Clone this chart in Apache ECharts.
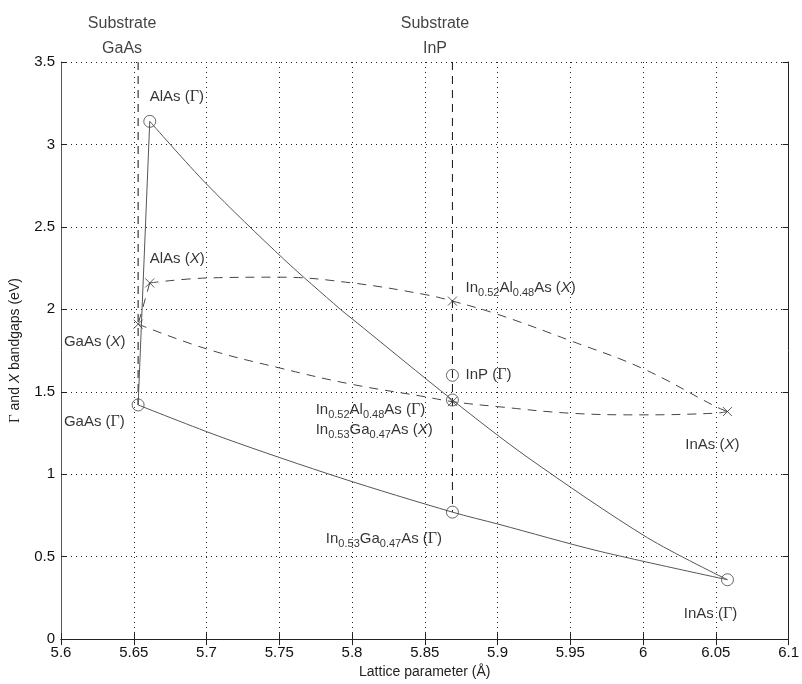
<!DOCTYPE html>
<html>
<head>
<meta charset="utf-8">
<script src="https://cdn.jsdelivr.net/npm/echarts@6/dist/echarts.min.js"></script>
<style>
  html, body { margin: 0; padding: 0; background: #fff; }
  #main { width: 802px; height: 684px; }
</style>
</head>
<body>
<div id="main"></div>
<script>
// binary end points [lattice parameter (A), bandgap (eV)]
var gaasG = [5.653, 1.42], alasG = [5.661, 3.14], inasG = [6.058, 0.36];
var gaasX = [5.653, 1.91], alasX = [5.661, 2.16], inasX = [6.058, 1.38];
var inpG = [5.869, 1.60];
// lattice matched to InP
var inalasG = [5.869, 1.45], inalasX = [5.869, 2.05];
var ingaasG = [5.869, 0.77], ingaasX = [5.869, 1.44];

// Gamma-valley curves
var inalasGCurve = [[5.661, 3.14], [5.70, 2.76], [5.753, 2.305], [5.792, 2.00], [5.80, 1.943],
    [5.869, 1.45], [5.921, 1.10], [6.003, 0.615], [6.058, 0.36]];
var ingaasGCurve = [[5.653, 1.42], [5.712, 1.219], [5.792, 0.978], [5.869, 0.77],
    [5.901, 0.696], [5.969, 0.535], [6.058, 0.36]];

// X-valley bowing curves
var inalasXCurve = [[5.661, 2.16], [5.70, 2.19], [5.75, 2.195], [5.80, 2.16], [5.85, 2.09], [5.869, 2.05],
    [5.90, 1.97], [5.95, 1.81], [6.00, 1.64], [6.05, 1.41], [6.058, 1.38]];
var ingaasXCurve = [[5.653, 1.91], [5.70, 1.76], [5.75, 1.645], [5.80, 1.545], [5.85, 1.47], [5.869, 1.44],
    [5.90, 1.41], [5.95, 1.37], [6.00, 1.36], [6.05, 1.37], [6.058, 1.38]];

// substrates
var substrateGaAs = [[5.653, 3.5], [5.653, 1.42]];
var substrateInP = [[5.869, 3.5], [5.869, 0.77]];

// annotations: [x, y, text] (x = left edge of text)
var pointLabels = [
    [5.661, 3.29, 'AlAs ({g|Γ})'],
    [5.661, 2.305, 'AlAs ({i|X})'],
    [5.602, 1.805, 'GaAs ({i|X})'],
    [5.602, 1.32, 'GaAs ({g|Γ})'],
    [5.878, 1.60, 'InP ({g|Γ})'],
    [5.878, 2.13, 'In{s|0.52}Al{s|0.48}As ({i|X})'],
    [5.775, 1.39, 'In{s|0.52}Al{s|0.48}As ({g|Γ})'],
    [5.775, 1.27, 'In{s|0.53}Ga{s|0.47}As ({i|X})'],
    [6.029, 1.18, 'InAs ({i|X})'],
    [5.782, 0.61, 'In{s|0.53}Ga{s|0.47}As ({g|Γ})'],
    [6.028, 0.155, 'InAs ({g|Γ})']
];
var topLabels = [
    [5.642, 3.73, 'Substrate'], [5.642, 3.58, 'GaAs'],
    [5.857, 3.73, 'Substrate'], [5.857, 3.58, 'InP']
];

var xTicks = { min: 5.6, max: 6.1, interval: 0.05 };
var yTicks = { min: 0, max: 3.5, interval: 0.5 };

var chart = echarts.init(document.getElementById('main'));

var font = 'Liberation Sans, Arial, sans-serif';
var rich = {
    s: { fontSize: 11, fontFamily: font, color: '#000', padding: [10, 0, 0, 0], lineHeight: 12 },
    g: { fontSize: 16, fontFamily: 'Liberation Serif, serif', color: '#000', lineHeight: 17 },
    i: { fontSize: 15, fontFamily: font, fontStyle: 'italic', color: '#000', lineHeight: 17 }
};
var nameRich = {
    g: { fontSize: 15, fontFamily: 'Liberation Serif, serif', color: '#222' },
    i: { fontSize: 14, fontFamily: font, fontStyle: 'italic', color: '#222' }
};
var crossPath = 'path://M0,0L10,10M10,0L0,10';

function fmt(v) { return String(Number(v.toFixed(2))); }

var dashed = { color: '#444', width: 1, type: [9, 7] };
var solid = { color: '#555', width: 1 };

chart.setOption({
    animation: false,
    grid: { left: 59, right: 10, top: 62, bottom: 42 },
    xAxis: [{
        type: 'value', min: xTicks.min, max: xTicks.max, interval: xTicks.interval,
        name: 'Lattice parameter (Å)', nameLocation: 'middle', nameGap: 16,
        nameTextStyle: { fontSize: 14, fontFamily: font, color: '#222' },
        axisLine: { lineStyle: { color: '#222' } },
        axisTick: { inside: true, length: 6, lineStyle: { color: '#222' } },
        axisLabel: { fontSize: 15, fontFamily: font, color: '#111', margin: 6, formatter: fmt },
        splitLine: { show: true, lineStyle: { color: '#222', width: 1, type: [1, 4] } }
    }, {
        type: 'value', position: 'top', min: xTicks.min, max: xTicks.max, interval: xTicks.interval,
        axisLine: { lineStyle: { color: '#222' } },
        axisTick: { inside: true, length: 6, lineStyle: { color: '#222' } },
        axisLabel: { show: false }, splitLine: { show: false }
    }],
    yAxis: [{
        type: 'value', min: yTicks.min, max: yTicks.max, interval: yTicks.interval,
        name: '{g|Γ} and {i|X} bandgaps (eV)', nameLocation: 'middle', nameGap: 38, nameRotate: 90,
        nameTextStyle: { fontSize: 14, fontFamily: font, color: '#222', rich: nameRich },
        axisLine: { lineStyle: { color: '#555' } },
        axisTick: { inside: true, length: 6, lineStyle: { color: '#222' } },
        axisLabel: { fontSize: 15, fontFamily: font, color: '#111', margin: 6, formatter: fmt },
        splitLine: { show: true, lineStyle: { color: '#222', width: 1, type: [1, 4] } }
    }, {
        type: 'value', position: 'right', min: yTicks.min, max: yTicks.max, interval: yTicks.interval,
        axisLine: { show: true, lineStyle: { color: '#222' } },
        axisTick: { show: true, inside: true, length: 6, lineStyle: { color: '#222' } },
        axisLabel: { show: false }, splitLine: { show: false }
    }],
    series: [
        { type: 'line', data: [gaasG, alasG], symbol: 'none', lineStyle: solid, z: 3 },
        { type: 'line', data: inalasGCurve, smooth: 0.3, symbol: 'none', lineStyle: solid, z: 3 },
        { type: 'line', data: ingaasGCurve, smooth: 0.3, symbol: 'none', lineStyle: solid, z: 3 },
        { type: 'line', data: [alasX, gaasX], symbol: 'none', lineStyle: dashed, z: 3 },
        { type: 'line', data: inalasXCurve, smooth: 0.4, symbol: 'none', lineStyle: dashed, z: 3 },
        { type: 'line', data: ingaasXCurve, smooth: 0.4, symbol: 'none', lineStyle: dashed, z: 3 },
        { type: 'line', data: substrateGaAs, symbol: 'none',
          lineStyle: { color: '#111', width: 1, type: [8, 6] }, z: 2 },
        { type: 'line', data: substrateInP, symbol: 'none',
          lineStyle: { color: '#111', width: 1, type: [8, 6] }, z: 2 },
        { type: 'scatter', data: [gaasG, alasG, inasG, inpG, inalasG, ingaasG],
          symbol: 'circle', symbolSize: 12,
          itemStyle: { color: 'rgba(0,0,0,0)', borderColor: '#444', borderWidth: 1 }, z: 4 },
        { type: 'scatter', data: [gaasX, alasX, inasX, inalasX, ingaasX],
          symbol: crossPath, symbolSize: 9,
          itemStyle: { color: 'none', borderColor: '#333', borderWidth: 1 }, z: 4 },
        { type: 'scatter', symbolSize: 0, silent: true, z: 5,
          data: pointLabels.map(function (d) { return { value: [d[0], d[1]], name: d[2] }; }),
          label: { show: true, position: 'right', distance: 0, formatter: '{b}',
              fontSize: 15, fontFamily: font, color: '#000', rich: rich } },
        { type: 'scatter', symbolSize: 0, silent: true, clip: false, z: 5,
          data: topLabels.map(function (d) { return { value: [d[0], d[1]], name: d[2] }; }),
          label: { show: true, position: 'inside', formatter: '{b}',
              fontSize: 16, fontFamily: font, color: '#111' } }
    ]
});
window.onresize = chart.resize;
</script>
</body>
</html>
